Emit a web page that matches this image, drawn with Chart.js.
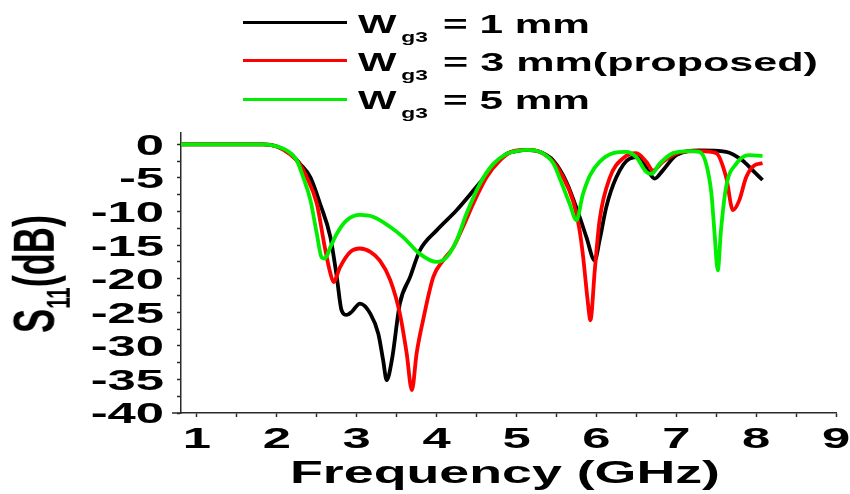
<!DOCTYPE html>
<html><head><meta charset="utf-8">
<script src="https://cdn.jsdelivr.net/npm/chart.js@4/dist/chart.umd.min.js"></script>
<style>
html,body{margin:0;padding:0;background:#fff;}
#wrap{position:relative;width:850px;height:494px;overflow:hidden;font-family:"Liberation Sans",Arial,sans-serif;font-weight:bold;color:#000;}
#c{position:absolute;left:0;top:0;}
.t{position:absolute;white-space:nowrap;display:inline-block;line-height:1;transform-origin:0 0;}
.sw{position:absolute;height:3px;}
</style></head>
<body><div id="wrap"><canvas id="c" width="850" height="494"></canvas></div>
<script>
// ---- data ----
const seriesNames = ["1 mm", "3 mm(proposed)", "5 mm"];
const seriesColors = ["#000000", "#ff0000", "#00ee00"];

const freqW1 = [0.8,1.5,1.83,2.0,2.17,2.29,2.42,2.54,2.67,2.75,2.81,2.875,2.94,3.04,3.17,3.27,3.33,3.375,3.44,3.54,3.67,3.79,4.0,4.25,4.5,4.67,4.875,5.0,5.125,5.29,5.46,5.625,5.79,5.875,5.98,6.04,6.125,6.25,6.42,6.54,6.645,6.73,6.83,7.0,7.29,7.625,7.83,7.96,8.08];
const s11W1  = [0,0,0,-0.3,-1.4,-2.9,-4.9,-8.8,-13.8,-19.7,-24.7,-25.4,-24.9,-23.7,-25.2,-28.2,-32.1,-35.1,-32.1,-23.7,-19.7,-15.8,-12.8,-9.8,-6.3,-3.9,-1.4,-1.0,-0.8,-1.1,-2.4,-5.6,-10.8,-13.8,-17.3,-14.3,-9.3,-4.9,-2.1,-1.9,-3.9,-5.1,-3.9,-1.6,-0.9,-1.1,-2.4,-3.9,-5.3];

const freqW3 = [0.8,1.5,1.83,2.0,2.17,2.29,2.375,2.5,2.6,2.67,2.71,2.79,2.92,3.04,3.17,3.29,3.42,3.54,3.625,3.69,3.75,3.83,3.96,4.08,4.21,4.33,4.46,4.625,4.79,4.96,5.125,5.29,5.46,5.58,5.71,5.79,5.83,5.9,5.925,5.98,6.04,6.17,6.33,6.5,6.625,6.71,6.83,7.04,7.29,7.5,7.625,7.71,7.79,7.875,7.98,8.08];
const s11W3  = [0,0,0,-0.3,-1.5,-3.0,-4.9,-8.8,-15.3,-19.2,-20.5,-18.3,-16.0,-15.5,-16.0,-17.3,-20.2,-25.2,-31.1,-36.6,-31.1,-26.2,-19.7,-17.3,-15.3,-12.3,-8.8,-4.9,-2.4,-1.0,-0.8,-1.1,-2.6,-4.8,-8.5,-12.8,-16.3,-24.2,-26.2,-18.75,-11.3,-4.9,-2.1,-1.3,-2.6,-3.9,-2.6,-1.2,-1.0,-1.3,-4.9,-9.8,-8.3,-4.9,-3.1,-2.8];

const freqW5 = [0.8,1.5,1.83,2.0,2.125,2.25,2.33,2.42,2.5,2.56,2.6,2.67,2.75,2.875,3.04,3.21,3.42,3.58,3.79,4.0,4.125,4.25,4.375,4.54,4.71,4.875,4.96,5.125,5.29,5.46,5.54,5.67,5.75,5.83,5.92,6.04,6.21,6.375,6.5,6.625,6.69,6.79,6.96,7.17,7.29,7.375,7.44,7.48,7.52,7.56,7.625,7.75,7.91,8.08];
const s11W5  = [0,0,0,-0.3,-0.9,-2.4,-4.9,-8.3,-13.3,-16.8,-17.0,-15.3,-13.3,-11.3,-10.5,-10.8,-12.3,-13.8,-16.3,-17.5,-16.8,-14.3,-10.3,-5.9,-2.9,-1.4,-1.1,-0.8,-1.1,-2.8,-5.0,-9.0,-11.3,-7.5,-4.6,-2.6,-1.3,-1.1,-1.9,-4.1,-4.4,-2.9,-1.3,-1.0,-1.1,-2.9,-7.3,-13.3,-18.75,-12.8,-6.3,-2.9,-1.6,-1.7];

const xTickValues = [1,1.5,2,2.5,3,3.5,4,4.5,5,5.5,6,6.5,7,7.5,8,8.5,9];
const xTickLabels = [1,2,3,4,5,6,7,8,9];
const yTickValues = [0,-2.5,-5,-7.5,-10,-12.5,-15,-17.5,-20,-22.5,-25,-27.5,-30,-32.5,-35,-37.5,-40];
const yTickLabels = [0,-5,-10,-15,-20,-25,-30,-35,-40];

const zip = (xs, ys) => xs.map((x, i) => ({x, y: ys[i]}));

const FONT = '"Liberation Sans", Arial, sans-serif';
const STRETCH = 1.75;
const axisColor = '#2a2a2a';

const labelPlugin = {
  id: 'stretchLabels',
  afterDraw(chart) {
    const ctx = chart.ctx, xs = chart.scales.x, ys = chart.scales.y;
    ctx.save();
    // short extension of the bottom axis to the left of the y axis
    ctx.strokeStyle = axisColor; ctx.lineWidth = 1.5;
    ctx.beginPath();
    ctx.moveTo(chart.chartArea.left - 9, ys.getPixelForValue(-40));
    ctx.lineTo(chart.chartArea.left, ys.getPixelForValue(-40));
    ctx.stroke();
    ctx.fillStyle = '#000';
    ctx.font = 'bold 29px ' + FONT;
    ctx.textBaseline = 'alphabetic';
    xTickLabels.forEach(v => {
      const px = xs.getPixelForValue(v);
      ctx.save(); ctx.translate(px, 448); ctx.scale(STRETCH, 1);
      ctx.textAlign = 'center'; ctx.fillText(String(v), 0, 0); ctx.restore();
    });
    yTickLabels.forEach(v => {
      const py = ys.getPixelForValue(v);
      ctx.save(); ctx.translate(164, py + 10.4); ctx.scale(STRETCH, 1);
      ctx.textAlign = 'right'; ctx.fillText(String(v), 0, 0); ctx.restore();
    });
    ctx.restore();
  }
};

new Chart(document.getElementById('c'), {
  type: 'line',
  data: {
    datasets: [
      {label: seriesNames[0], data: zip(freqW1, s11W1), borderColor: seriesColors[0], order: 3},
      {label: seriesNames[1], data: zip(freqW3, s11W3), borderColor: seriesColors[1], order: 2},
      {label: seriesNames[2], data: zip(freqW5, s11W5), borderColor: seriesColors[2], order: 1}
    ]
  },
  options: {
    responsive: false, animation: false, devicePixelRatio: 1,
    layout: {padding: {top: 133, right: 14, bottom: 0, left: 0}},
    plugins: {legend: {display: false}, tooltip: {enabled: false}},
    elements: {point: {radius: 0}, line: {borderWidth: 3.8, cubicInterpolationMode: 'monotone', fill: false}},
    scales: {
      x: {
        type: 'linear', min: 0.8, max: 9,
        afterBuildTicks: s => { s.ticks = xTickValues.map(v => ({value: v})); },
        afterFit: s => { s.height = 81; },
        ticks: {display: false},
        grid: {display: true, drawOnChartArea: false, drawTicks: true, tickLength: 4, tickColor: axisColor, tickWidth: 1.5},
        border: {display: true, color: axisColor, width: 1.5}
      },
      y: {
        type: 'linear', min: -40, max: 1.7,
        afterBuildTicks: s => { s.ticks = yTickValues.map(v => ({value: v})); },
        afterFit: s => { s.width = 181; },
        ticks: {display: false},
        grid: {display: true, drawOnChartArea: false, drawTicks: true, tickLength: 4, tickColor: axisColor, tickWidth: 1.5},
        border: {display: true, color: axisColor, width: 1.5}
      }
    }
  },
  plugins: [labelPlugin]
});

// ---- HTML text: legend and axis titles ----
const wrap = document.getElementById('wrap');
function addText(html, fontSize, left, baseline, targetWidth) {
  const el = document.createElement('div');
  el.className = 't';
  el.style.fontSize = fontSize + 'px';
  el.innerHTML = html;
  el.style.left = left + 'px';
  el.style.top = (baseline - 0.8465 * fontSize) + 'px';
  wrap.appendChild(el);
  const w = el.getBoundingClientRect().width;
  el.style.transform = 'scaleX(' + (targetWidth / w) + ')';
  return el;
}
const legendRight = [590, 818, 590];
for (let i = 0; i < 3; i++) {
  const ly = 22.7 + 38.2 * i;
  const sw = document.createElement('div');
  sw.className = 'sw';
  sw.style.left = '243px'; sw.style.width = '104px';
  sw.style.top = (ly - 1.5) + 'px';
  sw.style.background = seriesColors[i];
  wrap.appendChild(sw);
  const base = 33 + 38 * i;
  addText('W<span style="font-size:14px;position:relative;top:9px;margin-left:3px">g3</span>', 25, 358, base, 70);
  addText('= ' + seriesNames[i], 25, 443, base, legendRight[i] - 443);
}
addText('Frequency (GHz)', 32, 290, 483, 430);

// rotated y title
const yt = document.createElement('div');
yt.className = 't';
yt.style.fontSize = '32px';
yt.innerHTML = 'S<span style="font-size:18px;position:relative;top:9px;">11</span>(dB)';
wrap.appendChild(yt);
const r = yt.getBoundingClientRect();
const cx = 34, cy = 274;
yt.style.left = (cx - r.width / 2) + 'px';
yt.style.top = (cy - r.height / 2) + 'px';
yt.style.transformOrigin = '50% 50%';
yt.style.transform = 'rotate(-90deg) scale(' + (118 / r.width) + ',1.8)';
</script>
</body></html>
